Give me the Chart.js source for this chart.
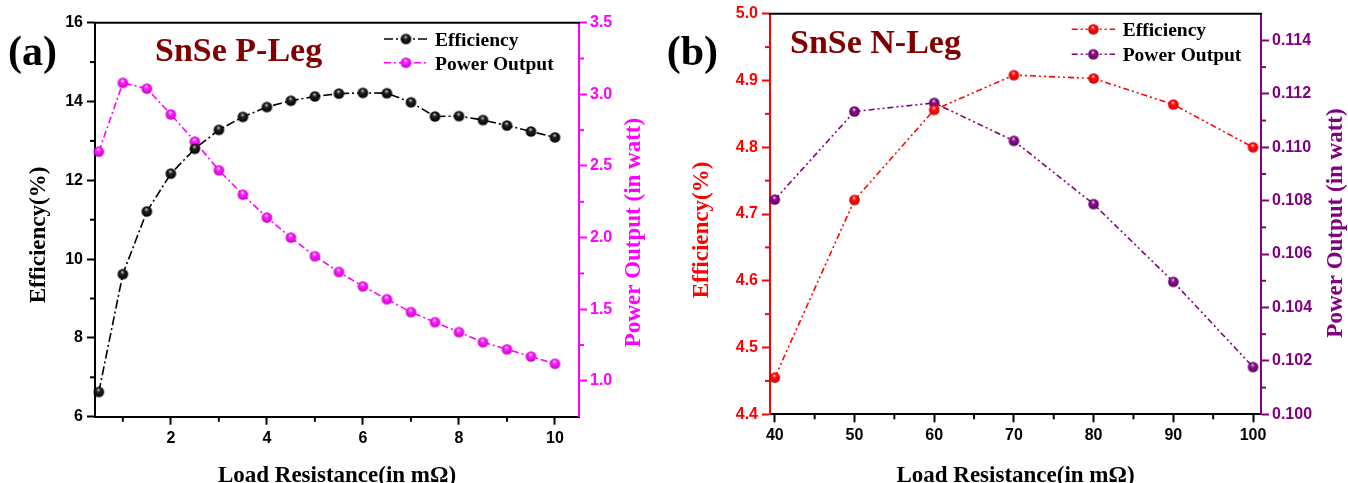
<!DOCTYPE html>
<html><head><meta charset="utf-8">
<script src="https://cdn.jsdelivr.net/npm/chart.js@4.4.1/dist/chart.umd.min.js"></script>
<style>
html,body{margin:0;padding:0;background:#fff;width:1348px;height:483px;overflow:hidden}
canvas{position:absolute;top:0}
#ca{left:0}
#cb{left:660px}
</style></head><body>
<canvas id="ca" width="660" height="483"></canvas>
<canvas id="cb" width="688" height="483"></canvas>
<script>
// ---------- Panel (a): SnSe P-Leg ----------
const resistanceP = [0.5,1,1.5,2,2.5,3,3.5,4,4.5,5,5.5,6,6.5,7,7.5,8,8.5,9,9.5,10];
const efficiencyP = [6.63,9.62,11.21,12.17,12.80,13.28,13.61,13.86,14.02,14.13,14.20,14.22,14.21,13.98,13.62,13.63,13.53,13.39,13.24,13.09];
const powerP      = [2.60,3.08,3.04,2.86,2.67,2.47,2.30,2.14,2.00,1.87,1.76,1.66,1.57,1.48,1.41,1.34,1.27,1.22,1.17,1.12];
const xTicksP   = [2,4,6,8,10];
const xMinorP   = [1,3,5,7,9];
const effTicksP = [6,8,10,12,14,16];
const effMinorP = [7,9,11,13,15];
const powTicksP = [1.0,1.5,2.0,2.5,3.0,3.5];
const powMinorP = [1.25,1.75,2.25,2.75,3.25];

// ---------- Panel (b): SnSe N-Leg ----------
const resistanceN = [40,50,60,70,80,90,100];
const efficiencyN = [4.455,4.721,4.856,4.908,4.903,4.864,4.800];
const powerN      = [0.10804,0.11134,0.11166,0.11024,0.10787,0.10496,0.10177];
const xTicksN   = [40,50,60,70,80,90,100];
const xMinorN   = [45,55,65,75,85,95];
const effTicksN = [4.4,4.5,4.6,4.7,4.8,4.9,5.0];
const effMinorN = [4.45,4.55,4.65,4.75,4.85,4.95];
const powTicksN = [0.100,0.102,0.104,0.106,0.108,0.110,0.112,0.114];
const powMinorN = [0.101,0.103,0.105,0.107,0.109,0.111,0.113];

const SERIF = '"Liberation Serif","Times New Roman",serif';
const SANS = '"Liberation Sans",Arial,sans-serif';

function sphere(light, mid, dark, r){
  const s = Math.ceil(2*r+2);
  const c = document.createElement('canvas');
  c.width = s; c.height = s;
  const g = c.getContext('2d');
  const cx = s/2, cy = s/2;
  const grad = g.createRadialGradient(cx - r*0.1, cy - r*0.45, 0.2, cx, cy, r);
  grad.addColorStop(0, light);
  grad.addColorStop(0.35, mid);
  grad.addColorStop(1, dark);
  g.fillStyle = grad;
  g.beginPath(); g.arc(cx, cy, r, 0, Math.PI*2); g.fill();
  return c;
}

function pts(xs, ys){ return xs.map((x,i)=>({x:x, y:ys[i]})); }

function makeChart(id, o){
  const H = 483, W = o.W;
  const tickFont = {family: SANS, size: 16, weight: 'bold'};
  const titleFont = {family: SERIF, size: 23, weight: 'bold', lineHeight: 0.62};
  const minorMap = {x: o.xMinor, y: o.yMinor, y1: o.y1Minor};
  const extras = {
    id: 'extras',
    afterDraw(chart){
      const ctx = chart.ctx, ca = chart.chartArea;
      ctx.save();
      // top border
      ctx.strokeStyle = '#000'; ctx.lineWidth = 2; ctx.setLineDash([]);
      ctx.beginPath(); ctx.moveTo(ca.left-1, ca.top); ctx.lineTo(ca.right+1, ca.top); ctx.stroke();
      // minor ticks
      Object.keys(minorMap).forEach(k=>{
        const sc = chart.scales[k];
        ctx.strokeStyle = sc.options.border.color; ctx.lineWidth = 2;
        minorMap[k].forEach(v=>{
          const p = sc.getPixelForValue(v);
          ctx.beginPath();
          if (k === 'x'){ ctx.moveTo(p, ca.bottom); ctx.lineTo(p, ca.bottom + 5); }
          else if (k === 'y'){ ctx.moveTo(ca.left, p); ctx.lineTo(ca.left - 5, p); }
          else { ctx.moveTo(ca.right, p); ctx.lineTo(ca.right + 5, p); }
          ctx.stroke();
        });
      });
      // panel label and title
      ctx.fillStyle = '#000'; ctx.textBaseline = 'alphabetic'; ctx.textAlign = 'left';
      ctx.font = 'bold 42px ' + SERIF;
      ctx.fillText(o.panel, o.panelX, 65);
      ctx.fillStyle = '#800000';
      ctx.font = 'bold 34px ' + SERIF;
      ctx.fillText(o.title, o.titleX, o.titleY);
      // legend
      ctx.font = 'bold 19.5px ' + SERIF;
      chart.data.datasets.forEach((ds, i)=>{
        const ly = o.legY[i];
        ctx.strokeStyle = ds.borderColor; ctx.lineWidth = ds.borderWidth;
        ctx.setLineDash(ds.borderDash);
        ctx.beginPath(); ctx.moveTo(o.legX0, ly); ctx.lineTo(o.legX1, ly); ctx.stroke();
        ctx.setLineDash([]);
        const m = ds.pointStyle;
        ctx.drawImage(m, (o.legX0+o.legX1)/2 - m.width/2, ly - m.height/2);
        ctx.fillStyle = '#000';
        ctx.fillText(ds.label, o.legTX, ly + 7);
      });
      // vertical axis titles (reading bottom to top)
      ctx.font = 'bold 23px ' + SERIF;
      ctx.textAlign = 'center'; ctx.textBaseline = 'middle';
      [[o.yTitle, o.yTitleX, o.yTitleY, o.yColor],[o.y1Title, o.y1TitleX, o.y1TitleY, o.y1Color]].forEach(t=>{
        ctx.save();
        ctx.translate(t[1], t[2]); ctx.rotate(-Math.PI/2);
        ctx.fillStyle = t[3];
        ctx.fillText(t[0], 0, 0);
        ctx.restore();
      });
      ctx.restore();
    }
  };
  const gridOpt = c => ({display: true, drawOnChartArea: false, drawTicks: true, tickLength: 8, tickWidth: 2, color: c, tickColor: c});
  return new Chart(document.getElementById(id), {
    type: 'line',
    data: {
      datasets: [
        {label: 'Efficiency', data: pts(o.xs, o.eff), yAxisID: 'y', borderColor: o.yLine, borderWidth: 1.6,
         borderDash: o.dashEff, pointStyle: o.effMarker, pointRadius: 5, tension: 0, fill: false, clip: 10},
        {label: 'Power Output', data: pts(o.xs, o.pow), yAxisID: 'y1', borderColor: o.y1Line, borderWidth: 1.6,
         borderDash: o.dashPow, pointStyle: o.powMarker, pointRadius: 5, tension: 0, fill: false, clip: 10}
      ]
    },
    options: {
      responsive: false, animation: false, devicePixelRatio: 1,
      layout: {padding: {top: o.top, left: 0, right: 0, bottom: 0}},
      plugins: {legend: {display: false}, tooltip: {enabled: false}, title: {display: false}},
      scales: {
        x: {
          type: 'linear', position: 'bottom', min: o.xMin, max: o.xMax,
          afterBuildTicks: s => { s.ticks = o.xTicks.map(v=>({value: v})); },
          afterFit: s => { s.height = H - o.bottom; },
          grid: gridOpt('#000'),
          border: {display: true, color: '#000', width: 2},
          ticks: {font: tickFont, color: '#000', padding: 4, maxRotation: 0, autoSkip: false, callback: v => String(v)},
          title: {display: true, text: 'Load Resistance(in mΩ)', font: titleFont, color: '#000', padding: {top: 0, bottom: 0}}
        },
        y: {
          type: 'linear', position: 'left', min: o.yMin, max: o.yMax,
          afterBuildTicks: s => { s.ticks = o.yTicks.map(v=>({value: v})); },
          afterFit: s => { s.width = o.left; },
          grid: gridOpt(o.yColor),
          border: {display: true, color: o.yColor, width: 2},
          ticks: {font: tickFont, color: o.yColor, padding: 4, autoSkip: false, callback: v => v.toFixed(o.yDec)}
        },
        y1: {
          type: 'linear', position: 'right', min: o.y1Min, max: o.y1Max,
          afterBuildTicks: s => { s.ticks = o.y1Ticks.map(v=>({value: v})); },
          afterFit: s => { s.width = W - o.right; },
          grid: gridOpt(o.y1Color),
          border: {display: true, color: o.y1Color, width: 2},
          ticks: {font: tickFont, color: o.y1Color, padding: 3, autoSkip: false, callback: v => v.toFixed(o.y1Dec)}
        }
      }
    },
    plugins: [extras]
  });
}

makeChart('ca', {
  W: 660, left: 95, right: 579, top: 22.7, bottom: 416.7,
  xs: resistanceP, eff: efficiencyP, pow: powerP,
  xMin: 0.42, xMax: 10.5, xTicks: xTicksP, xMinor: xMinorP,
  yMin: 6, yMax: 16, yTicks: effTicksP, yMinor: effMinorP, yDec: 0,
  y1Min: 0.75, y1Max: 3.5, y1Ticks: powTicksP, y1Minor: powMinorP, y1Dec: 1,
  yColor: '#000000', y1Color: '#ff00ff', yLine: '#000000', y1Line: '#ff00ff',
  dashEff: [9,3,2,3], dashPow: [7,3,2,3],
  effMarker: sphere('#d8d8d8', '#222222', '#000000', 5.3),
  powMarker: sphere('#ffe0ff', '#ff22ff', '#cc00cc', 5.3),
  panel: '(a)', panelX: 8, title: 'SnSe P-Leg', titleX: 155, titleY: 61,
  legX0: 384, legX1: 428, legTX: 435, legY: [39, 62.7],
  yTitle: 'Efficiency(%)', yTitleX: 39, yTitleY: 235,
  y1Title: 'Power Output (in watt)', y1TitleX: 634.5, y1TitleY: 232.5
});

makeChart('cb', {
  W: 688, left: 110, right: 601, top: 13.7, bottom: 414.3,
  xs: resistanceN, eff: efficiencyN, pow: powerN,
  xMin: 39.4, xMax: 101, xTicks: xTicksN, xMinor: xMinorN,
  yMin: 4.4, yMax: 5.0, yTicks: effTicksN, yMinor: effMinorN, yDec: 1,
  y1Min: 0.100, y1Max: 0.115, y1Ticks: powTicksN, y1Minor: powMinorN, y1Dec: 3,
  yColor: '#ff0000', y1Color: '#800080', yLine: '#ff0000', y1Line: '#800080',
  dashEff: [6,3,2,3,2,3], dashPow: [6,3,2,3,2,3],
  effMarker: sphere('#ffd0d0', '#ff1010', '#d00000', 5.3),
  powMarker: sphere('#f0d0f0', '#8a108a', '#600060', 5.3),
  panel: '(b)', panelX: 6.7, title: 'SnSe N-Leg', titleX: 130, titleY: 53,
  legX0: 411.7, legX1: 455, legTX: 462.7, legY: [29.3, 54.3],
  yTitle: 'Efficiency(%)', yTitleX: 41.6, yTitleY: 230,
  y1Title: 'Power Output (in watt)', y1TitleX: 676, y1TitleY: 223
});
</script>
</body></html>
